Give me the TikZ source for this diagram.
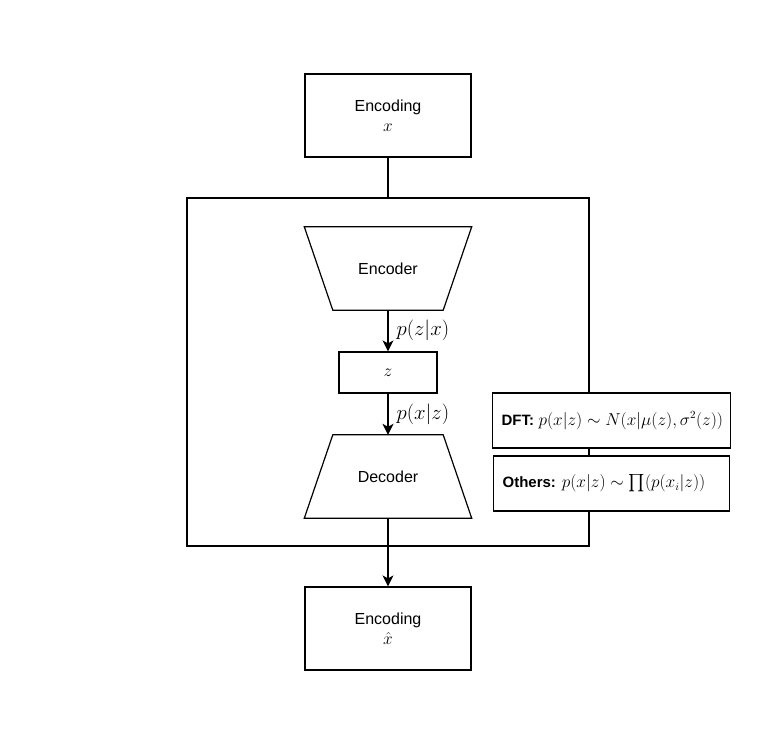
\documentclass[tikz,border=0pt]{standalone}
\usepackage{amsmath}
\usepackage{fontspec}
\setmainfont{Liberation Sans}
\usetikzlibrary{arrows.meta}

\begin{document}
\begin{tikzpicture}[x=1pt,y=-1pt,
box/.style={draw,line width=1.2pt,fill=white,minimum width=166pt,minimum height=83pt,align=center,font=\fontsize{16}{20}\selectfont},
coder/.style={minimum width=167pt,minimum height=83pt,inner sep=0pt,font=\fontsize{16}{20}\selectfont},
zbox/.style={draw,line width=1.2pt,fill=white,minimum width=98pt,minimum height=41pt,font=\fontsize{16}{20}\selectfont},
info/.style={draw,line width=1.2pt,fill=white,minimum height=55pt,inner xsep=9pt,anchor=west,font=\fontsize{16}{20}\selectfont},
arr/.style={line width=1.2pt,-{Stealth[length=11pt,width=11pt,inset=3pt]}},
lbl/.style={right,inner sep=8pt,font=\fontsize{19.5}{23}\selectfont}
]
\useasboundingbox (0,0) rectangle (772,739);

\node[draw,line width=1.2pt,minimum width=402pt,minimum height=348pt] (frame) at (388,372) {};

\node[box] (encx) at (388,115.5) {Encoding\\$x$};
\node[coder] (encoder) at (388,268.5) {Encoder};
\node[zbox] (z) at (388,372.5) {$z$};
\node[coder] (decoder) at (388,476.5) {Decoder};
\node[box] (encxhat) at (388,628.5) {Encoding\\$\hat{x}$};

% trapezoid outlines
\draw[line width=1.2pt] (encoder.north west) -- (encoder.north east) -- ([xshift=-28.5pt]encoder.south east) -- ([xshift=28.5pt]encoder.south west) -- cycle;
\draw[line width=1.2pt] ([xshift=28.5pt]decoder.north west) -- ([xshift=-28.5pt]decoder.north east) -- (decoder.south east) -- (decoder.south west) -- cycle;

% likelihood choices
\node[info] (dft) at (492,420.5) {\makebox[220pt][l]{{\fontsize{15}{18}\selectfont\textbf{DFT:}} $p(x|z) \sim N(x|\mu(z),\sigma^2(z))$}};
\node[info] (others) at (493,483.5) {\makebox[218pt][l]{{\fontsize{15}{18}\selectfont\textbf{Others:}} $p(x|z) \sim \prod(p(x_i|z))$}};

\draw[line width=1.2pt] (encx.south) -- (frame.north);
\draw[arr] (encoder.south) -- node[lbl] {$p(z|x)$} (z.north);
\draw[arr] (z.south) -- node[lbl] {$p(x|z)$} (decoder.north);
\draw[arr] (decoder.south) -- (encxhat.north);
\end{tikzpicture}
\end{document}
